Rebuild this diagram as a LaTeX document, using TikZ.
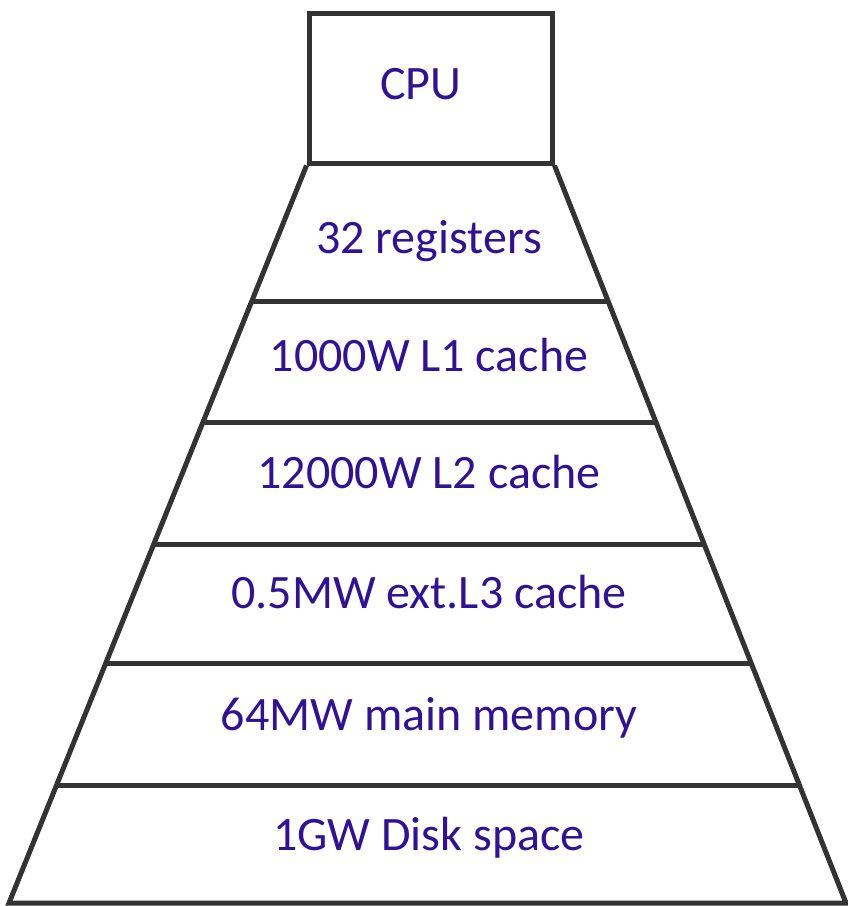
\documentclass[tikz,border=0pt]{standalone}
\usepackage{fontspec}
\setmainfont{Carlito}
\usetikzlibrary{calc}
\definecolor{linegray}{RGB}{51,51,51}
\definecolor{labelblue}{RGB}{48,18,150}

\begin{document}
\begin{tikzpicture}[x=1pt,y=-1pt,
    edge/.style={draw=linegray, line width=5pt},
    level/.style={text=labelblue, font=\fontsize{48}{57}\selectfont, anchor=base}]

    \useasboundingbox (0,0) rectangle (848,906);

    %cpu box on top of the pyramid
    \node (cpu) [edge, minimum width=243pt, minimum height=150pt, inner sep=0pt] at (430.5,88) {};
    \node[level] (cpulabel) at (421,99) {CPU};

    \coordinate (bl) at (9,903);
    \coordinate (br) at (846,903);
    \draw[edge, line join=miter] (cpu.south west) -- (bl) -- (br) -- (cpu.south east);

    % level separators
    \foreach \t in {0.185,0.3486,0.5135,0.6757,0.8405}
        \draw[edge] ($(cpu.south west)!\t!(bl)$) -- ($(cpu.south east)!\t!(br)$);

    \node[level] (regs) at (429,253) {32 registers};
    \node[level] (lone) at (429,371) {1000W L1 cache};
    \node[level] (ltwo) at (429,488) {12000W L2 cache};
    \node[level] (lthree) at (429,608) {0.5MW ext.L3 cache};
    \node[level] (mem) at (429,730) {64MW main memory};
    \node[level] (disk) at (429,850) {1GW Disk space};
\end{tikzpicture}
\end{document}
